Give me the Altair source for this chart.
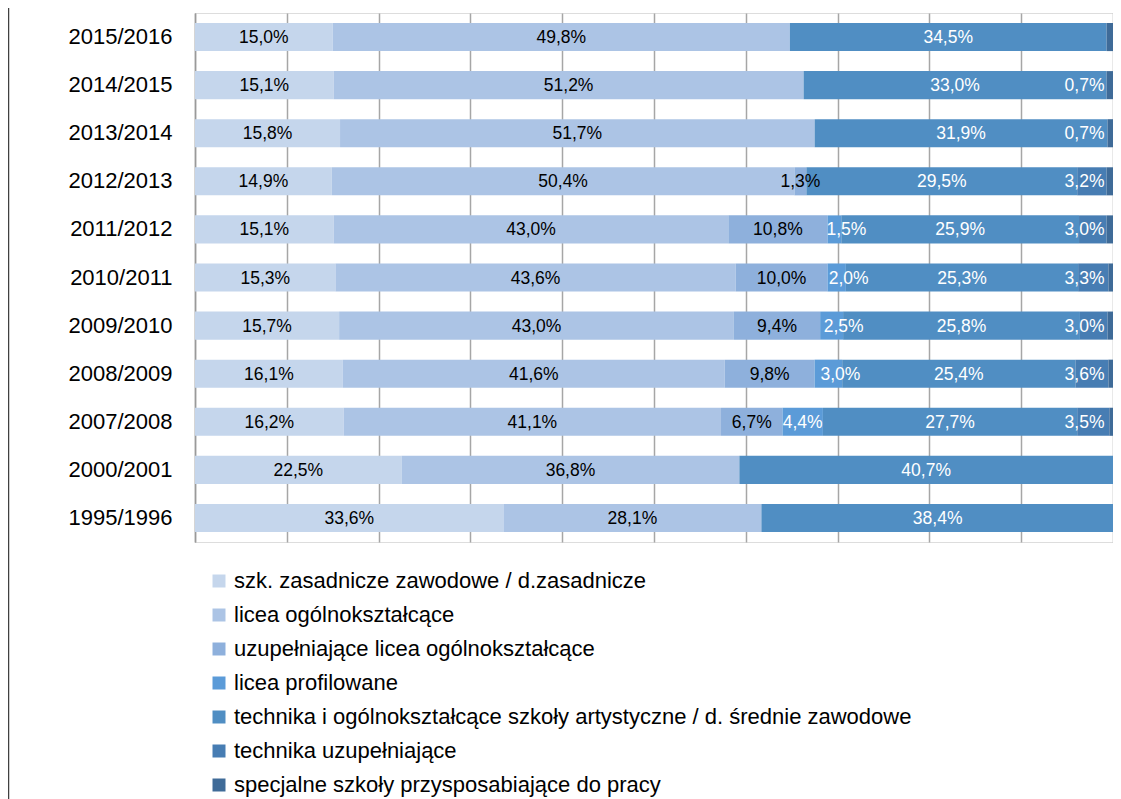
import altair as alt
import pandas as pd

years = ["2015/2016", "2014/2015", "2013/2014", "2012/2013", "2011/2012", "2010/2011",
         "2009/2010", "2008/2009", "2007/2008", "2000/2001", "1995/1996"]

categories = [
    "szk. zasadnicze zawodowe / d.zasadnicze",
    "licea ogólnokształcące",
    "uzupełniające licea ogólnokształcące",
    "licea profilowane",
    "technika i ogólnokształcące szkoły artystyczne / d. średnie zawodowe",
    "technika uzupełniające",
    "specjalne szkoły przysposabiające do pracy",
]
colors = ["#C5D6EC", "#ACC4E5", "#8EB0DC", "#5B9BD8", "#508EC3", "#477DB3", "#3F6B98"]

szk = [15.0, 15.1, 15.8, 14.9, 15.1, 15.3, 15.7, 16.1, 16.2, 22.5, 33.6]
licea = [49.8, 51.2, 51.7, 50.4, 43.0, 43.6, 43.0, 41.6, 41.1, 36.8, 28.1]
uzup_licea = [None, None, None, 1.3, 10.8, 10.0, 9.4, 9.8, 6.7, None, None]
profilowane = [None, None, None, None, 1.5, 2.0, 2.5, 3.0, 4.4, None, None]
technika = [34.5, 33.0, 31.9, 29.5, 25.9, 25.3, 25.8, 25.4, 27.7, 40.7, 38.4]
tech_uzup = [None, None, None, 3.2, 3.0, 3.3, 3.0, 3.6, 3.5, None, None]
specjalne = [0.7, 0.7, 0.7, 0.7, 0.7, 0.5, 0.6, 0.5, 0.4, None, None]
specjalne_labeled = [False, True, True, False, False, False, False, False, False, False, False]

series = [szk, licea, uzup_licea, profilowane, technika, tech_uzup, specjalne]

rows = []
for ci, (cat, vals) in enumerate(zip(categories, series)):
    for yi, (yr, v) in enumerate(zip(years, vals)):
        if v is None:
            continue
        lab = True
        if ci == 6:
            lab = specjalne_labeled[yi]
        rows.append({"year": yr, "cat": cat, "ord": ci, "value": v, "lab": lab})
df = pd.DataFrame(rows)

FONT = "Liberation Sans, Arial, sans-serif"

base = alt.Chart(df).transform_stack(
    stack="value", groupby=["year"], sort=[alt.SortField("ord", order="ascending")], as_=["x0", "x1"]
)

yenc = alt.Y(
    "year:N", sort=years, title=None,
    scale=alt.Scale(paddingInner=0.416, paddingOuter=0.208),
    axis=alt.Axis(labelFont=FONT, labelFontSize=22, labelColor="#000000", labelPadding=23,
                  ticks=False, domainColor="#9A9A9A", domainWidth=1.5, grid=False),
)

bars = base.mark_bar().encode(
    x=alt.X("x0:Q", scale=alt.Scale(domain=[0, 100], nice=False),
            axis=alt.Axis(values=list(range(0, 101, 10)), labels=False, ticks=False, domain=False,
                          grid=True, gridColor="#A6A6A6", gridWidth=1.5, title=None)),
    x2="x1:Q",
    y=yenc,
    color=alt.Color("cat:N", sort=categories,
                    scale=alt.Scale(domain=categories, range=colors),
                    legend=alt.Legend(orient="none", legendX=13, legendY=557, direction="vertical",
                                      title=None, labelFont=FONT, labelFontSize=22, labelColor="#000000",
                                      symbolType="square", symbolSize=169, symbolStrokeWidth=0,
                                      symbolOpacity=1, rowPadding=12, labelLimit=0, padding=0,
                                      labelOffset=4)),
)

labelled = base.transform_filter("datum.lab").transform_calculate(
    mid="min((datum.x0 + datum.x1) / 2, 96.9)",
    txt="replace(format(datum.value, '.1f'), '.', ',') + '%'",
)

def text_layer(chart, dx):
    return chart.mark_text(font=FONT, fontSize=17.5, baseline="middle", align="center", dy=1, dx=dx).encode(
        x="mid:Q",
        y=alt.Y("year:N", sort=years),
        text="txt:N",
        color=alt.condition("datum.ord >= 3", alt.value("#FFFFFF"), alt.value("#000000")),
    )

texts_main = text_layer(labelled.transform_filter("!(datum.ord == 3 && datum.value < 4)"), 0)
texts_shift = text_layer(labelled.transform_filter("datum.ord == 3 && datum.value < 4"), 12)

frame = alt.Chart(pd.DataFrame({"a": [0]})).mark_rule(color="#404040", strokeWidth=1.5).encode(
    x=alt.value(-186.5), y=alt.value(-20), y2=alt.value(820)
)

chart = alt.layer(bars, texts_main, texts_shift, frame).properties(
    width=918, height=529,
    autosize=alt.AutoSizeParams(type="none"),
    padding={"left": 187, "top": 5, "right": 0, "bottom": 257},
).configure_view(stroke=None).configure(background="#FFFFFF")

chart.save("out.html", embed_options={"renderer": "svg", "actions": False})
